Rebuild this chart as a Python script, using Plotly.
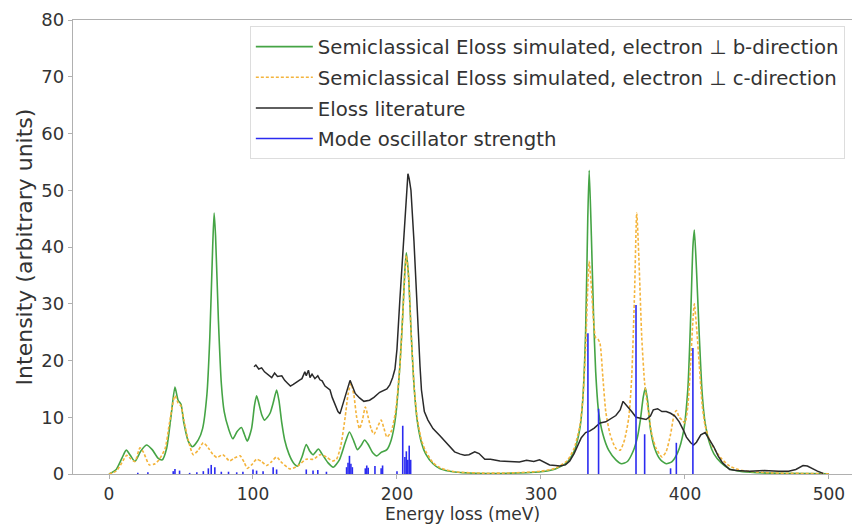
import plotly.graph_objects as go

# ---------------- data ----------------
green_E = [0, 5, 9, 12, 15, 18, 22, 26, 30, 34, 37, 40, 43, 45.8, 48, 50, 52, 55, 58, 62, 65, 68, 70, 72, 73, 74, 76, 78, 80, 83, 86, 89, 92, 94, 96, 99, 101, 102.5, 104, 106, 108, 110, 112, 114, 116.4, 118, 120, 122, 125, 128, 131, 134, 137, 139.5, 141.7, 145.4, 148, 152, 155.7, 160, 164, 167, 170, 172.5, 175, 177.5, 180, 183, 186, 189, 193, 196, 199, 202, 204, 205.5, 206.5, 208, 210, 212, 214, 217, 220, 225, 230, 240, 260, 280, 300, 310, 318, 323, 327, 329, 331, 332.5, 333.5, 335, 336.5, 338, 340, 343, 347, 352, 356, 360, 364, 367, 369, 371, 372.5, 374, 376, 379, 383, 387, 391, 395, 399, 402, 404, 405.5, 406.5, 408, 410, 412, 414, 417, 420, 425, 431, 440, 460, 500]
green_I = [0, 0.8, 2.8, 4.2, 3.2, 2.2, 4.0, 5.1, 4.3, 2.8, 2.5, 4.5, 10, 15.3, 13, 12.3, 9, 5.8, 4.8, 6, 8, 14, 24, 40, 46, 42, 27, 16, 11, 8, 6.2, 7.5, 8.2, 7, 5.8, 8, 12, 13.8, 12.5, 10.5, 9.5, 10, 10.8, 12.5, 14.8, 13, 9, 6, 3.5, 2, 1.4, 3, 5.2, 4, 3.4, 4.4, 3.5, 2, 1.2, 2.5, 5.5, 7.4, 5.8, 4.3, 5, 6, 5.2, 3.8, 3.2, 3.8, 4.3, 6, 10, 19, 28, 36, 39, 35, 24, 15, 9.5, 5.5, 3.5, 1.8, 0.9, 0.35, 0.1, 0.15, 0.4, 0.9, 2, 4, 8, 13, 25, 45, 53.5, 42, 28, 18, 11, 7, 4.2, 2.5, 1.8, 2.2, 4, 6.5, 9.5, 13.5, 15.2, 13, 8, 4.5, 2.5, 1.8, 2.2, 3.8, 7.5, 15, 28, 40, 43, 36, 24, 14, 9, 5.5, 3.6, 2, 0.9, 0.4, 0.15, 0.05]

orange_E = [0, 5, 9, 12.3, 15, 18, 21.5, 24, 28, 32, 35, 39, 42, 45.8, 48, 50, 52, 55, 58.5, 62, 65.5, 69, 72, 75, 79, 83.8, 87, 91, 94, 96, 99, 102.5, 106, 109.4, 113, 116.4, 120, 125.7, 131, 137, 142, 146.5, 151, 155, 158, 161, 164, 166, 168, 170, 172, 174, 176, 178, 180, 182, 184, 186, 189, 191, 193, 196, 199, 202, 204, 205.5, 206.5, 208, 210, 212, 214, 217, 220, 225, 230, 240, 260, 280, 300, 310, 318, 323, 327, 329, 331, 332.5, 333.5, 335, 336.5, 338, 339.5, 341, 343, 345, 348, 352, 355, 358, 361, 363, 365, 366.5, 368, 370, 372, 374, 377, 380, 384, 387, 390, 392.5, 394, 396, 398, 400, 402, 404, 405.5, 406.5, 408, 410, 412, 414, 417, 420, 425, 431, 440, 460, 500]
orange_I = [0, 0.5, 2, 3.3, 2.7, 2.2, 4.6, 3.8, 1.6, 1.8, 2.6, 4.5, 9, 13.8, 12.5, 12, 9.5, 6, 3.4, 4.2, 5.5, 4.6, 3.5, 2.9, 3.4, 2.3, 2.8, 3.2, 2, 1, 1.6, 2.6, 2.2, 1.5, 2.2, 3, 2, 0.9, 1.4, 2.6, 2.6, 3.4, 3, 2.3, 2.6, 5, 10, 14, 16, 14, 10, 8, 9.5, 11.8, 10, 8, 7, 8, 9.5, 8, 6.5, 7.5, 11, 19, 28, 35.5, 38.5, 35, 24, 15, 10, 6, 4, 2, 1.1, 0.4, 0.15, 0.2, 0.5, 1, 2.3, 4.5, 8.5, 13, 22, 33, 37.5, 33, 27, 24, 23.8, 23, 17, 11, 7, 4.5, 4.2, 6, 10, 17, 32, 46, 38, 24, 16, 12, 7, 4.5, 3, 4, 7, 10.5, 11.2, 10, 9.5, 9, 12, 20, 27, 30, 26, 19, 12, 8.5, 6, 4.6, 2.8, 1.4, 0.6, 0.2, 0.05]

lit_E = [100.7, 102, 104, 106, 108, 110, 112, 113, 115, 117, 120, 122, 124, 126, 128, 130, 132.6, 134, 136, 137, 138.5, 139.6, 141, 143, 145, 146.5, 148, 150, 152, 153.5, 155, 157, 159, 160.4, 162, 164, 166, 167.4, 169, 171, 174, 177, 181, 184, 188, 191, 193, 195, 197, 198.6, 200, 202, 204, 205.6, 207.6, 208.5, 209.7, 211.8, 213, 214.6, 216, 217, 219, 221.5, 225, 230, 235, 240, 244, 247, 250, 254, 257, 261, 265, 271.5, 278, 285, 290, 295, 299, 303, 306, 310, 313, 317, 320, 323, 325, 328, 331, 334, 337, 341, 345, 349, 352, 355, 357, 359, 361, 363, 366, 369, 373, 376, 378, 381, 384, 387, 390, 393, 396, 399, 401, 404, 406, 408, 411, 414, 416, 418, 420, 423, 426, 431, 436, 445, 455, 465, 472, 477, 480, 482, 485, 488, 492, 496]
lit_I = [18.9, 19.2, 18.5, 18.7, 18, 17.6, 17.2, 17, 17.8, 17.2, 17.3, 16.5, 16, 15.5, 15.8, 16.2, 16.6, 16.8, 18, 17.3, 18.3, 17, 17.6, 16.8, 17.3, 16.6, 16.4, 15.5, 15, 14.8, 13.5, 12.3, 11, 10.6, 12, 13.5, 15.5, 16.5, 15.5, 14.2, 13.4, 12.8, 13, 13.5, 14.4, 14.7, 15, 15.7, 17, 18.5, 22, 30.7, 38, 44.8, 52.9, 52, 50, 41, 34, 25.4, 19, 14.8, 11, 9.5, 8, 6.7, 5.2, 3.9, 3.5, 3.3, 3.4, 3.9, 3.6, 2.6, 2.6, 2.3, 2.2, 2.1, 2.4, 2.2, 2.5, 2.0, 1.6, 1.5, 1.4, 1.6, 2.3, 3.6, 4.8, 6.4, 7.3, 7.6, 8.1, 9, 9.2, 9.8, 10.3, 11.3, 12.8, 12.2, 11.5, 11, 10, 9.8, 9.6, 10.2, 11.3, 11.5, 11, 11, 10.7, 10.2, 9.2, 7.7, 6.5, 5.5, 5.1, 5.6, 6.9, 7.3, 6.5, 5.5, 4.8, 3.2, 2, 0.8, 0.6, 0.5, 0.6, 0.5, 0.5, 0.8, 1.2, 1.5, 1.4, 1, 0.5, 0.1]

stick_E = [20, 27, 44.6, 45.8, 49, 56, 61, 65.5, 69, 71, 73.5, 78, 83, 88.7, 93, 100, 102.5, 107, 114, 116.4, 137, 141.7, 145, 151, 165, 166, 167, 168, 169, 178, 179, 180, 184.7, 189, 190, 200, 204, 205.5, 206.5, 207.5, 208.5, 209.5, 332.6, 340, 366, 372, 390, 394, 405.5]
stick_I = [0.2, 0.3, 0.5, 0.9, 0.6, 0.2, 0.3, 0.5, 1.0, 1.6, 1.2, 0.4, 0.4, 0.3, 0.4, 0.8, 0.6, 0.5, 1.2, 0.8, 0.8, 0.6, 0.7, 0.4, 1.2, 2.0, 3.2, 1.8, 1.2, 1.0, 1.5, 1.1, 1.4, 1.0, 1.5, 0.5, 8.5, 3.0, 4.0, 2.5, 5.0, 2.5, 24.8, 11.5, 29.8, 7.0, 1.0, 5.5, 22.2]

x_ticks = [0, 100, 200, 300, 400, 500]
y_ticks = [0, 10, 20, 30, 40, 50, 60, 70, 80]

names = ["Semiclassical Eloss simulated, electron \u22a5 b-direction",
         "Semiclassical Eloss simulated, electron \u22a5 c-direction",
         "Eloss literature",
         "Mode oscillator strength"]

# ---------------- figure ----------------
sx, sy = [], []
for e, v in zip(stick_E, stick_I):
    sx += [e, e, None]
    sy += [0, v, None]

fig = go.Figure()
fig.add_trace(go.Scatter(x=green_E, y=green_I, mode="lines", name=names[0], legendgroup="a",
                         line=dict(color="#45a445", width=1.6, shape="spline", smoothing=0.6)))
fig.add_trace(go.Scatter(x=orange_E, y=orange_I, mode="lines", name=names[1], legendgroup="b",
                         line=dict(color="#f4b43c", width=1.6, dash="3px,2px", shape="spline", smoothing=0.6)))
fig.add_trace(go.Scatter(x=lit_E, y=lit_I, mode="lines", name=names[2], legendgroup="c",
                         line=dict(color="#2a2a2a", width=1.5)))
fig.add_trace(go.Scatter(x=sx, y=sy, mode="lines", name=names[3], legendgroup="d",
                         line=dict(color="#2b2bf0", width=1.6)))

font_family = "DejaVu Sans"
fig.update_layout(
    width=852, height=529,
    margin=dict(l=73, r=0, t=20, b=55),
    paper_bgcolor="white", plot_bgcolor="white",
    font=dict(family=font_family, color="#333333", size=17),
    showlegend=True,
    legend=dict(x=0.227, y=0.986, xanchor="left", yanchor="top",
                bgcolor="rgba(255,255,255,0.85)", bordercolor="#dddddd", borderwidth=1,
                font=dict(size=19.7, color="#333333"), tracegroupgap=2,
                itemwidth=57),
)
fig.update_xaxes(range=[-25, 516], tickvals=x_ticks, showgrid=False, zeroline=False,
                 showline=True, linecolor="#b0b0b0", linewidth=1.3, mirror=True,
                 ticks="outside", ticklen=4, tickcolor="#b0b0b0",
                 tickfont=dict(size=17),
                 title=dict(text="Energy loss (meV)", font=dict(size=17), standoff=4))
fig.update_yaxes(range=[0, 80], tickvals=y_ticks, showgrid=False, zeroline=False,
                 showline=True, linecolor="#b0b0b0", linewidth=1.3,
                 ticks="outside", ticklen=4, tickcolor="#b0b0b0",
                 tickfont=dict(size=18),
                 title=dict(text="Intensity (arbitrary units)", font=dict(size=22), standoff=2))

fig.write_html("out.html")
